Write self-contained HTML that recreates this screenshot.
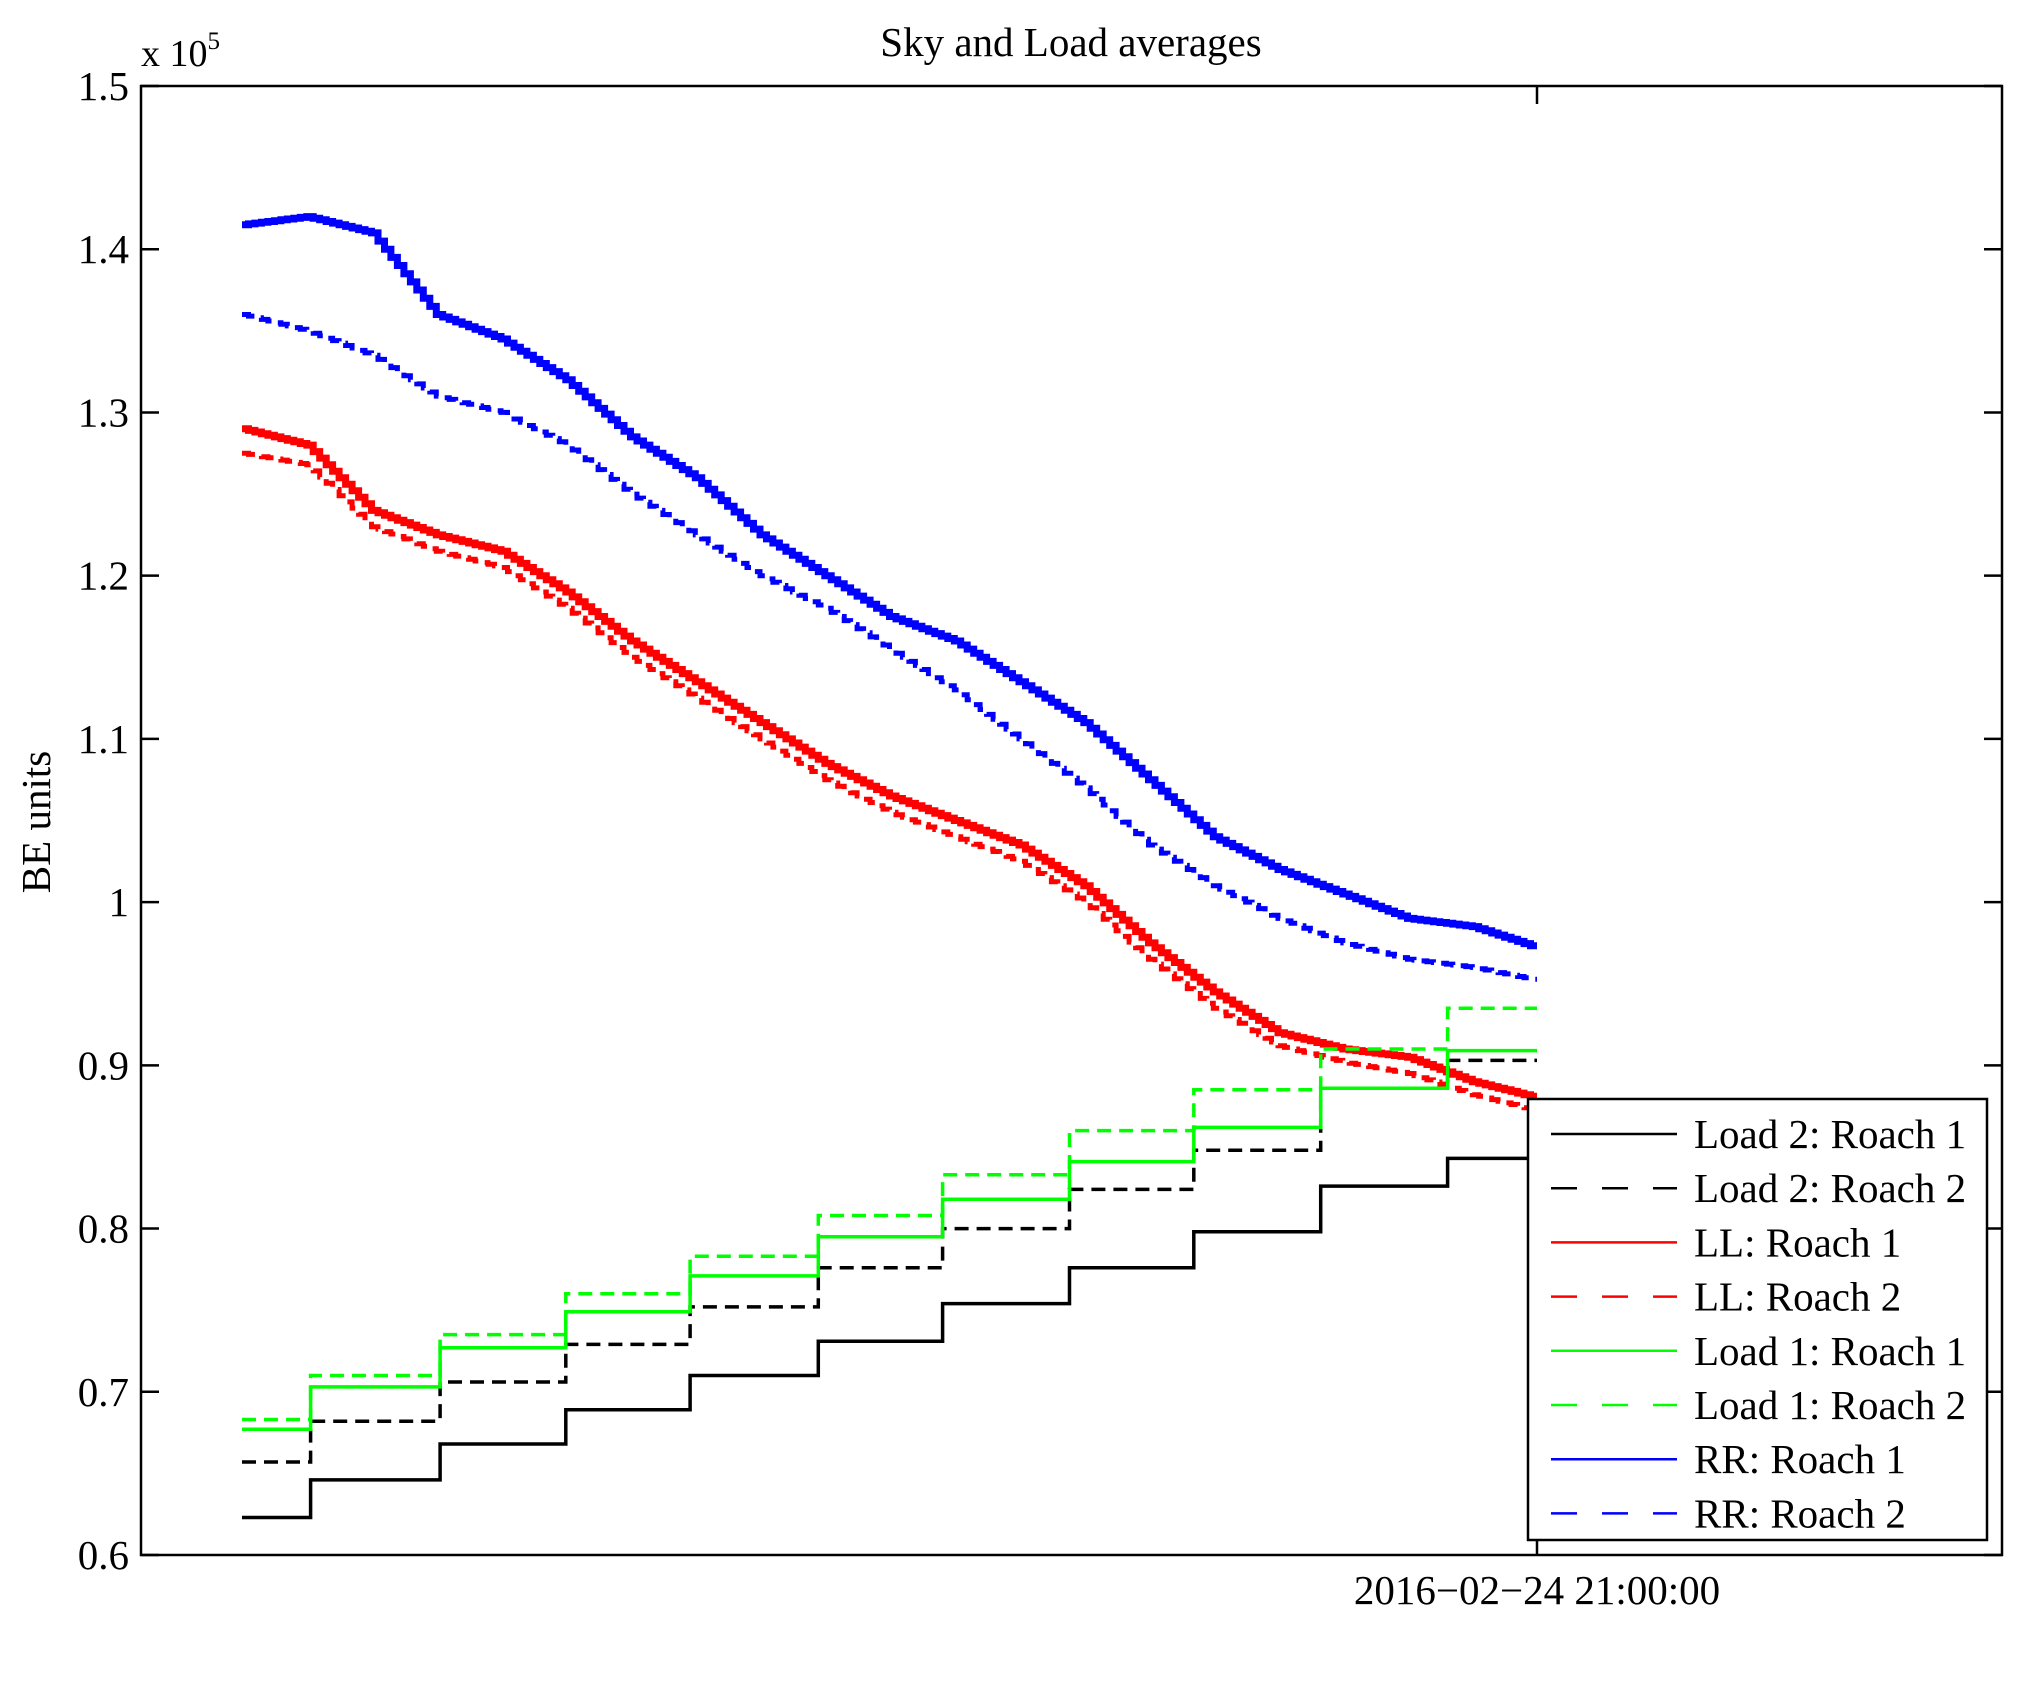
<!DOCTYPE html>
<html><head><meta charset="utf-8"><style>
body{margin:0;background:#fff}
svg{display:block;font-family:"Liberation Serif",serif}
</style></head><body>
<svg id="c" width="2029" height="1683" viewBox="0 0 2029 1683">
<rect x="0" y="0" width="2029" height="1683" fill="#fff"/>
<text x="1071" y="56" font-size="41" text-anchor="middle">Sky and Load averages</text>
<text x="141" y="66" font-size="38">x 10<tspan font-size="25" dy="-17">5</tspan></text>
<text transform="translate(50,822) rotate(-90)" font-size="41" text-anchor="middle">BE units</text>
<g id="plot"></g>
<g id="axes"></g>
<g id="legend"></g>
</svg>
<script>
const yTicks=[0.6,0.7,0.8,0.9,1.0,1.1,1.2,1.3,1.4,1.5];
const yTickLabels=["0.6","0.7","0.8","0.9","1","1.1","1.2","1.3","1.4","1.5"];
const xTickValues=[10.0];
const xTickLabels=["2016\u221202\u221224 21:00:00"];
const gridT=[0,0.5,1,1.5,2,2.5,3,3.5,4,4.5,5,5.5,6,6.5,7,7.5,8,8.5,9,9.5,10];
const rrR1=[1.415,1.42,1.41,1.36,1.345,1.32,1.285,1.26,1.225,1.20,1.175,1.16,1.135,1.11,1.075,1.04,1.02,1.005,0.99,0.985,0.972];
const rrR2=[1.36,1.35,1.335,1.31,1.30,1.28,1.25,1.225,1.20,1.18,1.155,1.13,1.10,1.07,1.035,1.01,0.99,0.975,0.965,0.96,0.952];
const llR1=[1.29,1.28,1.24,1.225,1.215,1.19,1.16,1.135,1.11,1.085,1.065,1.05,1.035,1.01,0.975,0.945,0.92,0.91,0.905,0.89,0.88];
const llR2=[1.275,1.268,1.23,1.215,1.205,1.18,1.15,1.125,1.10,1.075,1.055,1.04,1.025,1.0,0.965,0.935,0.912,0.902,0.895,0.882,0.872];
const stepT=[0,0.53,1.53,2.5,3.46,4.45,5.41,6.39,7.35,8.33,9.31,10];
const load2R1=[0.623,0.646,0.668,0.689,0.710,0.731,0.754,0.776,0.798,0.826,0.843];
const load2R2=[0.657,0.682,0.706,0.729,0.752,0.776,0.800,0.824,0.848,0.886,0.903];
const load1R1=[0.677,0.703,0.727,0.749,0.771,0.795,0.818,0.841,0.862,0.886,0.909];
const load1R2=[0.683,0.710,0.735,0.760,0.783,0.808,0.833,0.860,0.885,0.910,0.935];
const legendLabels=["Load 2: Roach 1","Load 2: Roach 2","LL: Roach 1","LL: Roach 2","Load 1: Roach 1","Load 1: Roach 2","RR: Roach 1","RR: Roach 2"];

const L=141,R=2002,T=86,B=1555;
function xs(t){return 242+t*129.5;}
function ys(v){return T+(1.5-v)/(0.9)*(B-T);}
const NS="http://www.w3.org/2000/svg";
function mk(tag,attrs,parent){const e=document.createElementNS(NS,tag);for(const k in attrs)e.setAttribute(k,attrs[k]);parent.appendChild(e);return e;}
const plot=document.getElementById('plot'),axes=document.getElementById('axes'),leg=document.getElementById('legend');

function smoothPath(ts,vs){
  let d="";
  for(let i=0;i<ts.length-1;i++){
    const n=10;
    for(let k=0;k<n;k++){
      const t=ts[i]+(ts[i+1]-ts[i])*k/n;
      const v=vs[i]+(vs[i+1]-vs[i])*k/n;
      const t2=ts[i]+(ts[i+1]-ts[i])*(k+1)/n;
      d+=(d?"L":"M")+xs(t).toFixed(1)+","+ys(v).toFixed(1)+"L"+xs(t2).toFixed(1)+","+ys(v).toFixed(1);
    }
  }
  return d;
}
function stairPath(ts,vs){
  let d="";
  for(let i=0;i<vs.length;i++){
    d+=(i?"L":"M")+xs(ts[i]).toFixed(1)+","+ys(vs[i]).toFixed(1)+"L"+xs(ts[i+1]).toFixed(1)+","+ys(vs[i]).toFixed(1);
  }
  return d;
}
const series=[
 {d:stairPath(stepT,load2R1),c:"#000",dash:null,n:"line-load2-roach1"},
 {d:stairPath(stepT,load2R2),c:"#000",dash:"14 8",n:"line-load2-roach2"},
 {d:smoothPath(gridT,llR1),c:"#f00",dash:null,n:"line-ll-roach1"},
 {d:smoothPath(gridT,llR2),c:"#f00",dash:"14 8",n:"line-ll-roach2"},
 {d:stairPath(stepT,load1R1),c:"#0f0",dash:null,n:"line-load1-roach1"},
 {d:stairPath(stepT,load1R2),c:"#0f0",dash:"14 8",n:"line-load1-roach2"},
 {d:smoothPath(gridT,rrR1),c:"#00f",dash:null,n:"line-rr-roach1"},
 {d:smoothPath(gridT,rrR2),c:"#00f",dash:"14 8",n:"line-rr-roach2"}
];
series.forEach((s,i)=>{
  const sky=(i==2||i==3||i==6||i==7);
  const a={d:s.d,fill:"none",stroke:s.c,"stroke-width":sky?(s.dash?5:7):3.5};
  if(s.dash)a["stroke-dasharray"]=s.dash;
  const p=mk('path',a,plot);
  
  
});
const box=mk('rect',{x:L,y:T,width:R-L,height:B-T,fill:"none",stroke:"#000","stroke-width":2.5},axes);


yTicks.forEach((v,i)=>{
  const y=ys(v);
  mk('line',{x1:L,y1:y,x2:L+18,y2:y,stroke:"#000","stroke-width":2.5},axes);
  mk('line',{x1:R,y1:y,x2:R-18,y2:y,stroke:"#000","stroke-width":2.5},axes);
  const t=mk('text',{x:L-12,y:y+14,"font-size":41,"text-anchor":"end"},axes);
  t.textContent=yTickLabels[i];
  
  
});
xTickValues.forEach((v,i)=>{
  const x=xs(v);
  mk('line',{x1:x,y1:B,x2:x,y2:B-18,stroke:"#000","stroke-width":2.5},axes);
  mk('line',{x1:x,y1:T,x2:x,y2:T+18,stroke:"#000","stroke-width":2.5},axes);
  const t=mk('text',{x:x,y:1604,"font-size":41,"text-anchor":"middle"},axes);
  t.textContent=xTickLabels[i];
  
  
});
const lb=mk('rect',{x:1528,y:1099,width:459,height:441,fill:"#fff",stroke:"#000","stroke-width":2.5},leg);


legendLabels.forEach((lab,i)=>{
  const y=1134+i*54.2;
  const s=series[i];
  const g=mk('g',{},leg);
  
  
  const a={x1:1551,y1:y,x2:1677,y2:y,stroke:s.c,"stroke-width":2.5};
  if(s.dash)a["stroke-dasharray"]="26 25";
  mk('line',a,g);
  const t=mk('text',{x:1694,y:y+14,"font-size":41},g);
  t.textContent=lab;
});
</script>
</body></html>
